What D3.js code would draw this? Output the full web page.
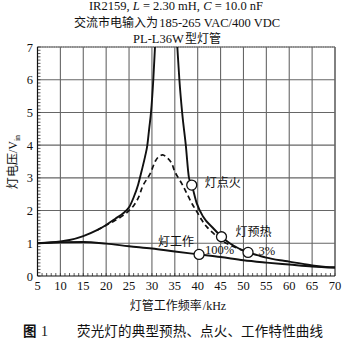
<!DOCTYPE html>
<html>
<head>
<meta charset="utf-8">
<script src="https://cdn.jsdelivr.net/npm/d3@7/dist/d3.min.js"></script>
<style>
  html, body { margin: 0; padding: 0; background: #fff; }
  svg { display: block; }
  .serif { font-family: "Liberation Serif", "DejaVu Serif", serif; }
  .cjk { font-family: "Noto Sans CJK SC", sans-serif; }
</style>
</head>
<body>
<script>
// ---------- data ----------
const xTicks = [5,10,15,20,25,30,35,40,45,50,55,60,65,70];
const yTicks = [0,1,2,3,4,5,6,7];

// ignition (no-load resonance) curve, solid
const ignFreq = [5,8,10,12,15,18,20,22,24,25,26,27,27.8,28.5,29,29.4,29.8,30.3,30.67,31.0,
                 35.2,35.55,36.0,36.6,37.4,38.1,38.7,39.8,41.2,43.4,45.2,47,49,51,53,55,58,60,63,65,68,70];
const ignVolt = [1.0,1.03,1.06,1.1,1.22,1.4,1.56,1.75,1.95,2.1,2.4,2.8,3.24,3.65,4.0,4.5,5.0,6.0,7.0,7.8,
                 7.8,7.0,6.0,5.0,4.0,3.0,2.78,2.22,1.81,1.46,1.2,1.0,0.84,0.72,0.64,0.56,0.48,0.44,0.37,0.32,0.28,0.27];

// preheat curve, dashed
const preFreq = [18,20,22,24,25,26,27,28.1,29.6,30.7,31.5,32.35,33.3,34.3,35.0,36.5,37.6,38.8,39.8,40.9,42,43.4,45,47,49.6,51];
const preVolt = [1.4,1.55,1.7,1.88,2.0,2.15,2.38,2.78,3.12,3.5,3.65,3.70,3.62,3.45,3.19,2.83,2.53,2.2,1.97,1.71,1.5,1.31,1.1,0.95,0.8,0.74];

// running curve, solid
const runFreq = [5,10,15,20,25,30,35,40.3,45,50,55,60,65,70];
const runVolt = [1.0,1.03,1.04,0.99,0.91,0.84,0.75,0.66,0.58,0.48,0.41,0.35,0.29,0.25];

// marked points
const markFreq = [38.7,45.2,51.0,40.3];
const markVolt = [2.78,1.2,0.72,0.66];

// text pieces: [text, font class, italic]
const title1 = [["IR2159,","serif",false],["L","serif",true],["= 2.30 mH,","serif",false],["C","serif",true],["= 10.0 nF","serif",false]];
const title2 = [["交流市电输入为","cjk",false],["185-265 VAC/400 VDC","serif",false]];
const title3 = [["PL-L36W","serif",false],["型灯管","cjk",false]];
const xLabel = [["灯管工作频率","cjk",false],["/kHz","serif",false]];
const caption = "荧光灯的典型预热、点火、工作特性曲线";

// ---------- drawing ----------
const W = 348, H = 348;
const svg = d3.select("body").append("svg").attr("width", W).attr("height", H);

const pL = 37.5, pR = 335, pT = 47, pB = 276;
const x = d3.scaleLinear().domain([5,70]).range([pL,pR]);
const y = d3.scaleLinear().domain([0,7]).range([pB,pT]);

const gridColor = "#666";

// grid
svg.append("g").selectAll("line").data(xTicks.slice(1)).join("line")
  .attr("x1", d => x(d)).attr("x2", d => x(d)).attr("y1", pT).attr("y2", pB)
  .attr("stroke", gridColor).attr("stroke-width", 1.1);
svg.append("g").selectAll("line").data(yTicks.slice(1)).join("line")
  .attr("x1", pL).attr("x2", pR).attr("y1", d => y(d)).attr("y2", d => y(d))
  .attr("stroke", gridColor).attr("stroke-width", 1.1);

// minor ticks
const xMinor = d3.range(5, 70.01, 1);
svg.append("g").selectAll("line").data(xMinor).join("line")
  .attr("x1", d => x(d)).attr("x2", d => x(d)).attr("y1", pB).attr("y2", pB-3)
  .attr("stroke", "#333").attr("stroke-width", 0.8);
const yMinor = d3.range(0, 70.01, 1).map(v => v/10);
svg.append("g").selectAll("line").data(yMinor).join("line")
  .attr("x1", pL).attr("x2", pL+3).attr("y1", d => y(d)).attr("y2", d => y(d))
  .attr("stroke", "#333").attr("stroke-width", 0.8);

// frame
svg.append("line").attr("x1", pL).attr("x2", pR).attr("y1", pT).attr("y2", pT)
  .attr("stroke", gridColor).attr("stroke-width", 1.2).attr("stroke-dasharray","1.5,0.8");
svg.append("line").attr("x1", pR).attr("x2", pR).attr("y1", pT).attr("y2", pB)
  .attr("stroke", gridColor).attr("stroke-width", 1.2);
svg.append("line").attr("x1", pL).attr("x2", pR).attr("y1", pB).attr("y2", pB)
  .attr("stroke", "#111").attr("stroke-width", 1.2);
svg.append("line").attr("x1", pL).attr("x2", pL).attr("y1", pT).attr("y2", pB)
  .attr("stroke", "#111").attr("stroke-width", 1.2);

// tick labels
svg.append("g").selectAll("text").data(xTicks).join("text")
  .attr("class","serif").attr("x", d => x(d)).attr("y", 290)
  .attr("text-anchor","middle").attr("font-size", 12.5).attr("fill","#111").text(d => d);
svg.append("g").selectAll("text").data(yTicks).join("text")
  .attr("class","serif").attr("x", 33).attr("y", d => y(d) + 4.5)
  .attr("text-anchor","end").attr("font-size", 12.5).attr("fill","#111").text(d => d);

// clip
svg.append("clipPath").attr("id","clip").append("rect")
  .attr("x", pL).attr("y", pT).attr("width", pR-pL).attr("height", pB-pT);

const line = d3.line().x(d => x(d[0])).y(d => y(d[1])).curve(d3.curveMonotoneX);
const curves = svg.append("g").attr("clip-path","url(#clip)");

curves.append("path").datum(d3.zip(runFreq, runVolt)).attr("d", line)
  .attr("fill","none").attr("stroke","#111").attr("stroke-width",1.9);
curves.append("path").datum(d3.zip(preFreq, preVolt)).attr("d", d3.line().x(d => x(d[0])).y(d => y(d[1])).curve(d3.curveCatmullRom))
  .attr("fill","none").attr("stroke","#111").attr("stroke-width",1.7).attr("stroke-dasharray","5,3.5");
curves.append("path").datum(d3.zip(ignFreq, ignVolt)).attr("d", line)
  .attr("fill","none").attr("stroke","#111").attr("stroke-width",1.9);

// leader for 灯工作
svg.append("line").attr("x1", x(markFreq[3]) - 39).attr("x2", x(markFreq[3]) - 33)
  .attr("y1", y(markVolt[3]) - 12.5).attr("y2", y(markVolt[3]) - 12.5)
  .attr("stroke","#111").attr("stroke-width",1);

// markers
svg.append("g").selectAll("circle").data(d3.zip(markFreq, markVolt)).join("circle")
  .attr("cx", d => x(d[0])).attr("cy", d => y(d[1])).attr("r", 5)
  .attr("fill","#fff").attr("stroke","#111").attr("stroke-width",1.3);

// point labels
const lab = svg.append("g").attr("fill","#111");
lab.append("text").attr("class","cjk").attr("font-size",12)
  .attr("x", x(markFreq[0]) + 13).attr("y", y(markVolt[0]) + 1.5).text("灯点火");
lab.append("text").attr("class","cjk").attr("font-size",12)
  .attr("x", x(markFreq[1]) + 14).attr("y", y(markVolt[1]) - 1).text("灯预热");
lab.append("text").attr("class","serif").attr("font-size",12.5)
  .attr("x", x(markFreq[3]) + 6).attr("y", y(markVolt[3]) - 0.5).text("100%");
lab.append("text").attr("class","serif").attr("font-size",12.5)
  .attr("x", x(markFreq[2]) + 10.5).attr("y", y(markVolt[2]) + 2.5).text("3%");
lab.append("text").attr("class","cjk").attr("font-size",12).attr("text-anchor","end")
  .attr("x", x(markFreq[3]) - 5).attr("y", y(markVolt[3]) - 8).text("灯工作");

// centred multi-font line built from separate text elements, with a small gap
function pieceLine(pieces, cx, baseY, size, cjkSize, gap) {
  const g = svg.append("g").attr("fill","#111");
  const els = pieces.map(p => g.append("text").attr("class", p[1])
      .attr("font-size", p[1] === "cjk" ? cjkSize : size).attr("font-style", p[2] ? "italic" : "normal")
      .attr("y", baseY).text(p[0]));
  const widths = els.map(e => e.node().getComputedTextLength());
  let cur = cx - (d3.sum(widths) + gap * (pieces.length - 1)) / 2;
  els.forEach((e, i) => { e.attr("x", cur); cur += widths[i] + gap; });
}
pieceLine(title1, 176, 10, 12.5, 12, 3.2);
pieceLine(title2, 177, 26.8, 12.5, 12, 1.2);
pieceLine(title3, 177, 43.3, 12.5, 12, 1.2);
pieceLine(xLabel, 178, 309.5, 12, 12, 1);

// y axis title (rotated)
const yl = svg.append("text").attr("font-size",12).attr("transform","translate(17,162) rotate(-90)")
  .attr("text-anchor","middle").attr("fill","#111");
yl.append("tspan").attr("class","cjk").text("灯电压");
yl.append("tspan").attr("class","serif").text("/V");
yl.append("tspan").attr("class","serif").attr("font-size",8).attr("dy",2.5).text("in");

// caption
svg.append("text").attr("class","cjk").attr("font-size",13.5).attr("font-weight","bold")
  .attr("x",23).attr("y",335.5).attr("fill","#111").text("图");
svg.append("text").attr("class","serif").attr("font-size",14)
  .attr("x",41).attr("y",335.5).attr("fill","#111").text("1");
svg.append("text").attr("class","cjk").attr("font-size",13.5)
  .attr("x",77).attr("y",335.5).attr("fill","#111").attr("textLength",246).text(caption);
</script>
</body>
</html>
